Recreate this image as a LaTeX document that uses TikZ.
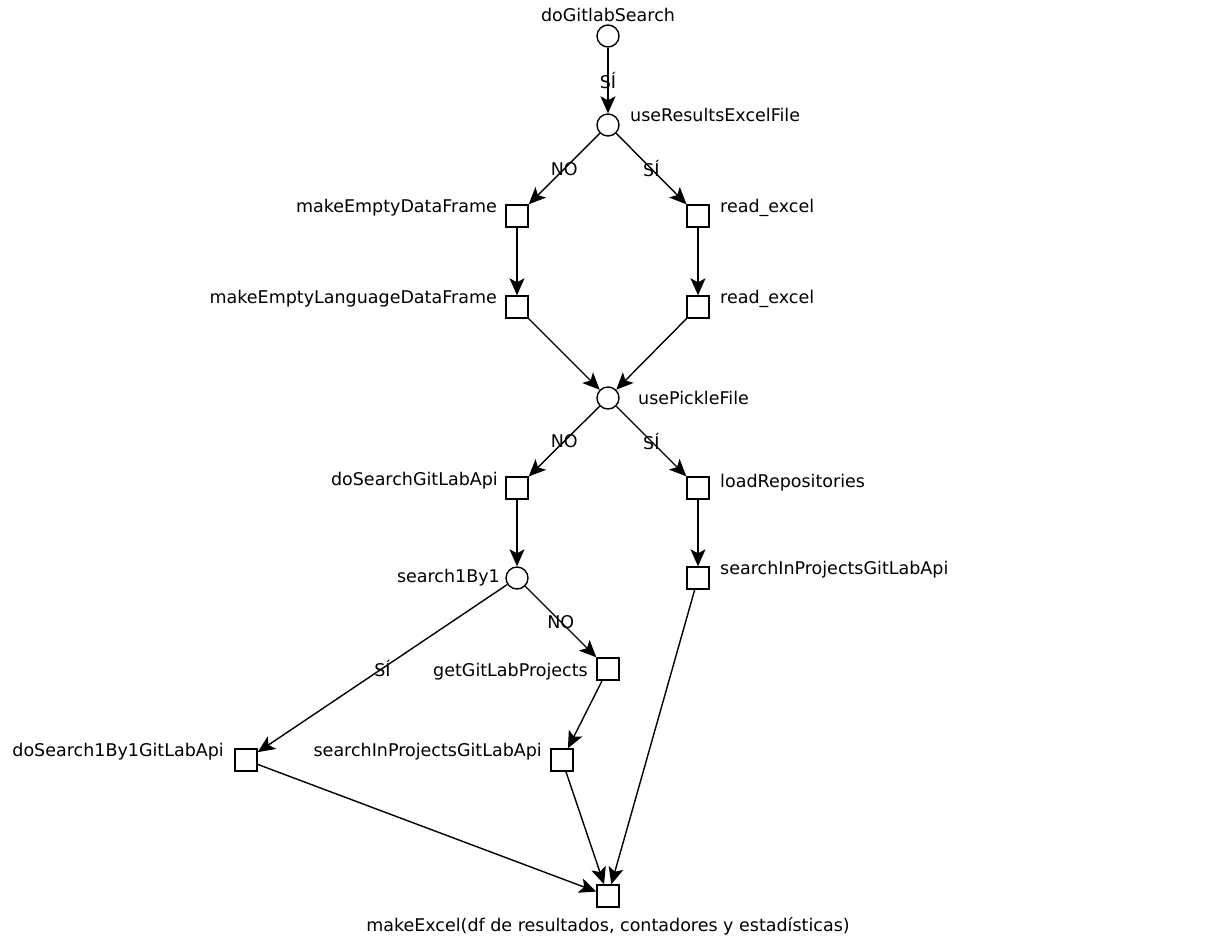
\documentclass[tikz,border=0pt]{standalone}
\usepackage{fontspec}
\setmainfont{DejaVu Sans}
\usetikzlibrary{arrows.meta}
\begin{document}
\begin{tikzpicture}[x=1pt,y=-1pt,
  decision/.style={circle,draw,line width=1.4pt,fill=white,minimum size=22pt,inner sep=0pt},
  action/.style={rectangle,draw,line width=1.4pt,fill=white,minimum size=22pt,inner sep=0pt},
  tag/.style={font=\fontsize{17.5}{20}\selectfont,inner sep=0pt},
  flow/.style={line width=1.4pt,-{Stealth[length=17pt,width=15pt,inset=4pt]}},
  answer/.style={font=\fontsize{17.5}{20}\selectfont,inner sep=0pt,midway}]
\useasboundingbox (0,0) rectangle (1222,948);

% decision points and actions
\node[decision] (dgs)   at (608,36)  {};
\node[decision] (ure)   at (608,125) {};
\node[action]   (medf)  at (517,216) {};
\node[action]   (rx1)   at (698,216) {};
\node[action]   (meldf) at (517,307) {};
\node[action]   (rx2)   at (698,307) {};
\node[decision] (upf)   at (608,398) {};
\node[action]   (dsga)  at (517,488) {};
\node[action]   (lrep)  at (698,488) {};
\node[decision] (s1b1)  at (517,578) {};
\node[action]   (sipr)  at (698,578) {};
\node[action]   (ggp)   at (608,669) {};
\node[action]   (ds1b1) at (246,760) {};
\node[action]   (sipl)  at (562,760) {};
\node[action]   (mx)    at (608,896) {};

% names of the steps
\node[tag,anchor=base]      (tdgs)   at (608,21)  {doGitlabSearch};
\node[tag,anchor=base west] (ture)   at (630,121) {useResultsExcelFile};
\node[tag,anchor=base east] (tmedf)  at (497,212) {makeEmptyDataFrame};
\node[tag,anchor=base west] (trx1)   at (720,212) {read\_excel};
\node[tag,anchor=base east] (tmeldf) at (497,303) {makeEmptyLanguageDataFrame};
\node[tag,anchor=base west] (trx2)   at (720,303) {read\_excel};
\node[tag,anchor=base west] (tupf)   at (638,404) {usePickleFile};
\node[tag,anchor=base east] (tdsga)  at (498,485) {doSearchGitLabApi};
\node[tag,anchor=base west] (tlrep)  at (720,487) {loadRepositories};
\node[tag,anchor=base east] (ts1b1)  at (500,582) {search1By1};
\node[tag,anchor=base west] (tsipr)  at (720,574) {searchInProjectsGitLabApi};
\node[tag,anchor=base east] (tggp)   at (588,676) {getGitLabProjects};
\node[tag,anchor=base east] (tds1b1) at (224,756) {doSearch1By1GitLabApi};
\node[tag,anchor=base east] (tsipl)  at (542,756) {searchInProjectsGitLabApi};
\node[tag,anchor=base]      (tmx)    at (608,931) {makeExcel(df de resultados, contadores y estadísticas)};

% flow
\draw[flow] (dgs) -- node[answer] {SÍ} (ure);
\draw[flow] (ure) -- node[answer] {NO} (medf);
\draw[flow] (ure) -- node[answer] {SÍ} (rx1);
\draw[flow] (medf) -- (meldf);
\draw[flow] (rx1) -- (rx2);
\draw[flow] (meldf) -- (upf);
\draw[flow] (rx2) -- (upf);
\draw[flow] (upf) -- node[answer] {NO} (dsga);
\draw[flow] (upf) -- node[answer] {SÍ} (lrep);
\draw[flow] (dsga) -- (s1b1);
\draw[flow] (lrep) -- (sipr);
\draw[flow] (s1b1) -- node[answer] {NO} (ggp);
\draw[flow] (s1b1) -- node[answer] {SÍ} (ds1b1);
\draw[flow] (ggp) -- (sipl);
\draw[flow] (ds1b1) -- (mx);
\draw[flow] (sipl) -- (mx);
\draw[flow] (sipr) -- (mx);
\end{tikzpicture}
\end{document}
